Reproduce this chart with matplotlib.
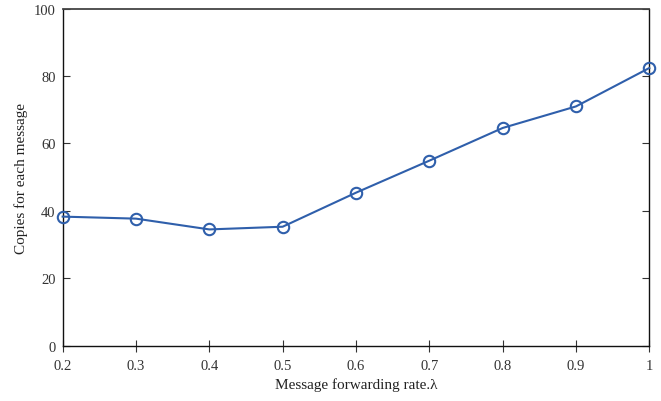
import numpy as np
import matplotlib
matplotlib.use("Agg")
import matplotlib.pyplot as plt

plt.rcParams["font.family"] = ["Liberation Serif", "DejaVu Serif"]
plt.rcParams["mathtext.fontset"] = "stix"

# forwarding rate and copies per message
rate = [0.2, 0.3, 0.4, 0.5, 0.6, 0.7, 0.8, 0.9, 1.0]
copies = [38.3, 37.7, 34.5, 35.3, 45.4, 54.9, 64.6, 71.0, 82.4]

xticks = [0.2, 0.3, 0.4, 0.5, 0.6, 0.7, 0.8, 0.9, 1.0]
xtick_labels = ["0.2", "0.3", "0.4", "0.5", "0.6", "0.7", "0.8", "0.9", "1"]
yticks = [0, 20, 40, 60, 80, 100]

fig = plt.figure(figsize=(6.61, 4.02), dpi=100)
ax = fig.add_axes([0.0948, 0.1376, 0.8875, 0.8383])

blue = "#2f5fab"
ax.plot(rate, copies, "-o", color=blue, lw=1.5, ms=8.2,
        mfc="none", mec=blue, mew=1.5, clip_on=False, zorder=3)

ax.set_xlim(0.2, 1.0)
ax.set_ylim(0, 100)
ax.set_xticks(xticks)
ax.set_xticklabels(xtick_labels)
ax.set_yticks(yticks)

ax.tick_params(axis="x", direction="inout", length=9, width=0.8,
               labelsize=10.5, colors="#333333", pad=5)
ax.tick_params(axis="y", direction="in", length=5, width=0.8,
               labelsize=10.5, colors="#333333", right=True, pad=5)

for side in ["left", "bottom", "right"]:
    ax.spines[side].set_color("#111111")
    ax.spines[side].set_linewidth(1.0)
ax.spines["top"].set_color("#444444")
ax.spines["top"].set_linewidth(1.3)

ax.set_xlabel("Message forwarding rate.λ", fontsize=11, color="#222222", labelpad=4)
ax.set_ylabel("Copies for each message", fontsize=11, color="#222222", labelpad=4)

plt.savefig("out.png", dpi=100)
